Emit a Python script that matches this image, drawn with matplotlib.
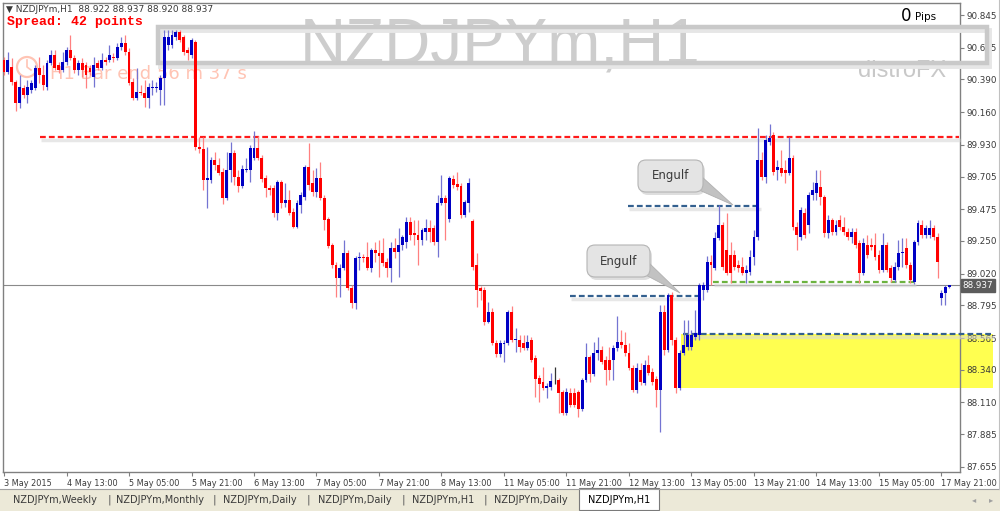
import numpy as np
import matplotlib
matplotlib.use('Agg')
import matplotlib.pyplot as plt
from matplotlib.patches import Rectangle, FancyBboxPatch, Polygon, Circle
import matplotlib.transforms as mtransforms

# ---------------- data (NZDJPYm, H1, 3 May 21:00 .. 17 May 23:00) ----------------
opens = [
    90.527, 90.443, 90.478, 90.372, 90.224, 90.330, 90.280, 90.316, 90.330, 90.471,
    90.421, 90.337, 90.506, 90.563, 90.492, 90.457, 90.513, 90.598, 90.542, 90.457,
    90.506, 90.492, 90.471, 90.407, 90.506, 90.471, 90.527, 90.527, 90.549, 90.542,
    90.619, 90.647, 90.584, 90.372, 90.259, 90.302, 90.294, 90.259, 90.330, 90.330,
    90.316, 90.400, 90.633, 90.633, 90.690, 90.725, 90.690, 90.598, 90.563, 90.655,
    89.913, 89.899, 89.680, 89.680, 89.821, 89.786, 89.737, 89.553, 89.751, 89.871,
    89.701, 89.638, 89.751, 89.751, 89.836, 89.906, 89.836, 89.694, 89.624, 89.624,
    89.447, 89.666, 89.518, 89.539, 89.454, 89.348, 89.504, 89.560, 89.772, 89.659,
    89.595, 89.694, 89.553, 89.405, 89.221, 89.080, 88.988, 89.059, 89.165, 88.918,
    88.812, 89.130, 89.137, 89.137, 89.059, 89.186, 89.165, 89.165, 89.101, 89.059,
    89.200, 89.172, 89.221, 89.243, 89.384, 89.306, 89.292, 89.257, 89.313, 89.341,
    89.341, 89.243, 89.518, 89.553, 89.405, 89.687, 89.652, 89.638, 89.433, 89.518,
    89.391, 89.080, 88.918, 88.904, 88.678, 88.748, 88.530, 88.452, 88.522, 88.530,
    88.748, 88.551, 88.551, 88.530, 88.494, 88.551, 88.423, 88.282, 88.254, 88.212,
    88.219, 88.268, 88.268, 88.184, 88.035, 88.176, 88.176, 88.184, 88.063, 88.268,
    88.431, 88.311, 88.459, 88.480, 88.409, 88.409, 88.409, 88.494, 88.537, 88.515,
    88.459, 88.353, 88.198, 88.339, 88.247, 88.374, 88.325, 88.275, 88.198, 88.748,
    88.480, 88.868, 88.551, 88.212, 88.459, 88.501, 88.501, 88.572, 88.586, 88.904,
    88.904, 89.101, 89.059, 89.271, 89.363, 89.186, 89.151, 89.151, 89.080, 89.066,
    89.024, 89.031, 89.137, 89.278, 89.821, 89.701, 89.948, 89.998, 89.751, 89.765,
    89.751, 89.730, 89.836, 89.348, 89.278, 89.447, 89.363, 89.574, 89.588, 89.631,
    89.560, 89.306, 89.398, 89.313, 89.398, 89.348, 89.313, 89.278, 89.313, 89.236,
    89.024, 89.221, 89.221, 89.221, 89.151, 89.045, 89.221, 89.059, 88.974, 89.066,
    89.165, 89.200, 89.080, 88.960, 89.243, 89.363, 89.292, 89.292, 89.341, 89.278,
    88.847, 88.882, 88.922,
]
highs = [
    90.549, 90.584, 90.542, 90.386, 90.421, 90.351, 90.386, 90.386, 90.492, 90.549,
    90.492, 90.527, 90.598, 90.598, 90.513, 90.584, 90.619, 90.704, 90.563, 90.527,
    90.542, 90.513, 90.492, 90.549, 90.527, 90.577, 90.549, 90.633, 90.577, 90.647,
    90.690, 90.704, 90.612, 90.400, 90.471, 90.351, 90.386, 90.365, 90.386, 90.372,
    90.421, 90.739, 90.739, 90.739, 90.739, 90.739, 90.704, 90.619, 90.683, 90.669,
    89.984, 89.984, 89.913, 89.843, 89.878, 89.836, 89.765, 89.878, 89.948, 89.892,
    89.751, 89.786, 89.836, 89.927, 90.026, 89.991, 89.857, 89.716, 89.645, 89.645,
    89.680, 89.680, 89.659, 89.610, 89.483, 89.539, 89.595, 89.786, 89.941, 89.751,
    89.765, 89.807, 89.574, 89.419, 89.236, 89.101, 89.087, 89.257, 89.186, 88.939,
    89.144, 89.172, 89.158, 89.243, 89.200, 89.243, 89.257, 89.271, 89.130, 89.243,
    89.271, 89.341, 89.292, 89.419, 89.419, 89.398, 89.398, 89.341, 89.405, 89.398,
    89.363, 89.574, 89.716, 89.574, 89.708, 89.716, 89.737, 89.659, 89.539, 89.694,
    89.405, 89.165, 88.932, 88.925, 88.819, 88.777, 88.551, 88.551, 88.551, 88.762,
    88.791, 88.635, 88.586, 88.586, 88.586, 88.572, 88.445, 88.303, 88.360, 88.247,
    88.318, 88.360, 88.282, 88.198, 88.212, 88.212, 88.212, 88.198, 88.282, 88.530,
    88.445, 88.537, 88.572, 88.508, 88.438, 88.501, 88.515, 88.720, 88.621, 88.607,
    88.530, 88.374, 88.388, 88.388, 88.409, 88.445, 88.353, 88.296, 88.798, 88.798,
    88.882, 88.890, 88.572, 88.480, 88.692, 88.692, 88.621, 88.762, 88.953, 88.960,
    89.144, 89.151, 89.313, 89.504, 89.384, 89.447, 89.243, 89.186, 89.116, 89.137,
    89.080, 89.186, 89.327, 90.047, 89.878, 89.998, 90.076, 90.019, 89.821, 89.892,
    89.821, 89.984, 89.857, 89.384, 89.490, 89.483, 89.595, 89.666, 89.751, 89.751,
    89.574, 89.433, 89.412, 89.398, 89.433, 89.419, 89.341, 89.341, 89.341, 89.257,
    89.271, 89.292, 89.271, 89.306, 89.186, 89.306, 89.243, 89.080, 89.101, 89.257,
    89.271, 89.271, 89.101, 89.257, 89.398, 89.398, 89.363, 89.398, 89.363, 89.306,
    88.904, 88.939, 88.937,
]
lows = [
    90.421, 90.429, 90.351, 90.167, 90.189, 90.259, 90.224, 90.294, 90.316, 90.365,
    90.316, 90.316, 90.492, 90.457, 90.436, 90.443, 90.492, 90.527, 90.436, 90.421,
    90.407, 90.330, 90.421, 90.337, 90.457, 90.457, 90.492, 90.513, 90.513, 90.527,
    90.598, 90.563, 90.351, 90.245, 90.245, 90.280, 90.196, 90.189, 90.280, 90.302,
    90.210, 90.210, 90.598, 90.612, 90.669, 90.655, 90.563, 90.527, 90.542, 89.892,
    89.871, 89.610, 89.483, 89.659, 89.751, 89.716, 89.511, 89.539, 89.666, 89.645,
    89.595, 89.624, 89.737, 89.666, 89.821, 89.821, 89.666, 89.560, 89.574, 89.419,
    89.398, 89.483, 89.490, 89.433, 89.341, 89.341, 89.447, 89.539, 89.610, 89.567,
    89.560, 89.539, 89.327, 89.200, 89.059, 88.854, 88.854, 89.045, 88.904, 88.777,
    88.770, 89.045, 89.101, 89.045, 89.031, 89.101, 88.995, 89.073, 88.995, 88.960,
    89.130, 88.995, 89.186, 89.200, 89.257, 89.221, 89.080, 89.221, 89.257, 89.243,
    89.221, 89.137, 89.504, 89.257, 89.384, 89.624, 89.610, 89.412, 89.419, 89.454,
    89.045, 88.784, 88.833, 88.656, 88.671, 88.515, 88.431, 88.431, 88.395, 88.515,
    88.537, 88.466, 88.466, 88.480, 88.480, 88.395, 88.148, 88.113, 88.198, 88.141,
    88.198, 88.240, 88.035, 88.021, 88.021, 88.078, 88.078, 88.007, 88.049, 88.254,
    88.254, 88.296, 88.409, 88.381, 88.233, 88.268, 88.268, 88.473, 88.494, 88.438,
    88.339, 88.184, 88.176, 88.233, 88.233, 88.303, 88.233, 88.078, 87.901, 88.445,
    88.466, 88.515, 88.176, 88.198, 88.445, 88.480, 88.480, 88.551, 88.551, 88.833,
    88.890, 88.939, 89.045, 89.257, 89.045, 89.010, 88.953, 89.045, 89.031, 89.010,
    88.953, 89.010, 89.080, 89.257, 89.680, 89.659, 89.927, 89.716, 89.680, 89.708,
    89.659, 89.716, 89.327, 89.186, 89.257, 89.271, 89.306, 89.539, 89.539, 89.504,
    89.278, 89.271, 89.292, 89.292, 89.327, 89.292, 89.257, 89.236, 89.200, 88.953,
    89.010, 89.130, 89.186, 89.116, 89.024, 89.031, 89.031, 88.960, 88.960, 89.045,
    89.066, 89.059, 88.953, 88.946, 89.221, 89.271, 89.271, 89.271, 89.257, 88.988,
    88.798, 88.798, 88.920,
]
closes = [
    90.443, 90.527, 90.372, 90.224, 90.337, 90.280, 90.337, 90.365, 90.471, 90.421,
    90.351, 90.506, 90.563, 90.471, 90.457, 90.513, 90.598, 90.542, 90.457, 90.506,
    90.457, 90.421, 90.443, 90.492, 90.471, 90.527, 90.513, 90.563, 90.542, 90.619,
    90.647, 90.584, 90.365, 90.259, 90.302, 90.294, 90.259, 90.337, 90.337, 90.337,
    90.400, 90.690, 90.690, 90.704, 90.725, 90.669, 90.584, 90.577, 90.669, 89.913,
    89.899, 89.680, 89.694, 89.821, 89.786, 89.730, 89.553, 89.751, 89.871, 89.701,
    89.638, 89.758, 89.758, 89.906, 89.906, 89.836, 89.687, 89.624, 89.610, 89.447,
    89.666, 89.518, 89.539, 89.447, 89.348, 89.518, 89.574, 89.772, 89.645, 89.595,
    89.694, 89.553, 89.398, 89.214, 89.080, 88.988, 89.059, 89.165, 88.918, 88.812,
    89.130, 89.137, 89.130, 89.059, 89.186, 89.165, 89.144, 89.094, 89.059, 89.200,
    89.172, 89.221, 89.278, 89.384, 89.292, 89.292, 89.257, 89.327, 89.341, 89.313,
    89.243, 89.518, 89.553, 89.518, 89.694, 89.645, 89.631, 89.433, 89.525, 89.659,
    89.066, 88.904, 88.897, 88.678, 88.748, 88.530, 88.452, 88.530, 88.530, 88.748,
    88.551, 88.558, 88.501, 88.494, 88.537, 88.409, 88.275, 88.240, 88.212, 88.226,
    88.261, 88.268, 88.176, 88.035, 88.184, 88.092, 88.092, 88.063, 88.268, 88.431,
    88.311, 88.459, 88.480, 88.395, 88.339, 88.339, 88.494, 88.537, 88.515, 88.459,
    88.353, 88.198, 88.353, 88.254, 88.374, 88.318, 88.254, 88.198, 88.748, 88.480,
    88.868, 88.551, 88.212, 88.459, 88.515, 88.586, 88.586, 88.600, 88.939, 88.939,
    89.101, 89.080, 89.271, 89.363, 89.066, 89.024, 89.024, 89.066, 89.059, 89.024,
    89.045, 89.137, 89.278, 89.821, 89.701, 89.963, 89.977, 89.737, 89.772, 89.730,
    89.730, 89.836, 89.348, 89.292, 89.469, 89.292, 89.574, 89.610, 89.659, 89.560,
    89.306, 89.398, 89.313, 89.363, 89.348, 89.313, 89.278, 89.313, 89.221, 89.024,
    89.236, 89.151, 89.207, 89.137, 89.045, 89.221, 89.045, 88.988, 89.066, 89.165,
    89.172, 89.080, 88.974, 89.243, 89.377, 89.292, 89.341, 89.341, 89.278, 89.101,
    88.882, 88.925, 88.937,
]

price_ticks = [90.845, 90.615, 90.390, 90.160, 89.930, 89.705, 89.475, 89.250,
               89.020, 88.795, 88.565, 88.340, 88.110, 87.885, 87.655]
time_labels = ['3 May 2015', '4 May 13:00', '5 May 05:00', '5 May 21:00', '6 May 13:00',
               '7 May 05:00', '7 May 21:00', '8 May 13:00', '11 May 05:00', '11 May 21:00',
               '12 May 13:00', '13 May 05:00', '13 May 21:00', '14 May 13:00',
               '15 May 05:00', '17 May 21:00']
bars_per_label = 16
tabs = ['NZDJPYm,Weekly', 'NZDJPYm,Monthly', 'NZDJPYm,Daily', 'NZDJPYm,Daily',
        'NZDJPYm,H1', 'NZDJPYm,Daily', 'NZDJPYm,H1']

current_price = 88.937
resistance = 89.984          # red dashed
engulf_high = 89.497         # upper blue dashed
engulf_low = 88.861          # lower blue dashed
support = 88.960             # green dashed
zone_top, zone_bottom = 88.590, 88.210   # yellow zone

# ---------------- figure ----------------
W, H = 1000, 511
fig = plt.figure(figsize=(W / 100, H / 100), dpi=100)
fig.patch.set_facecolor('white')


def pixel_axes(z):
    a = fig.add_axes([0, 0, 1, 1], zorder=z)
    a.set_xlim(0, W)
    a.set_ylim(H, 0)
    a.axis('off')
    a.patch.set_alpha(0)
    return a


bg = pixel_axes(0)
ax = fig.add_axes([3 / W, 1 - 472 / H, 957 / W, 469 / H], zorder=1)
ax.patch.set_alpha(0)
ov = pixel_axes(2)

n = len(opens)
idx = np.arange(n)
o = np.array(opens); h = np.array(highs); l = np.array(lows); c = np.array(closes)
ax.set_xlim(-0.26, 244.75)
ax.set_ylim(87.619, 90.930)

# ---- background watermark / timer text ----
bg.text(300, 63, 'NZDJPYm,H1', fontsize=46, color='#cdcdcd', family='Liberation Sans',
        ha='left', va='baseline')
bg.text(946, 77, 'distroFX', fontsize=17, color='#c8c8c8', family='Liberation Sans',
        ha='right', va='baseline')
bg.add_patch(Circle((27, 67), 10, fill=False, ec='#ffc4b4', lw=1.6))
bg.plot([27, 27, 31], [60, 67, 70], color='#ffc4b4', lw=1.2)
bg.text(50, 74, 'H1 Bar end 56 m 37 s', fontsize=13, color='#ffc4b4', ha='left', va='center')

# ---- zone, rectangle, levels ----
x_right_ext = 253.2
ax.add_patch(Rectangle((173.2, zone_bottom), x_right_ext - 173.2, zone_top - zone_bottom,
                       fc='#ffff50', ec='none', zorder=1, clip_on=False))
shadow_tr = mtransforms.offset_copy(ax.transData, fig=fig, x=2, y=-3, units='dots')
ax.add_patch(Rectangle((39.4, 90.506), 251.7 - 39.4, 90.760 - 90.506, fill=False,
                       ec='#e6e6e6', lw=3.5, zorder=2.9, clip_on=False, transform=shadow_tr))
ax.add_patch(Rectangle((39.4, 90.506), 251.7 - 39.4, 90.760 - 90.506, fill=False,
                       ec='#c9c9c9', lw=3.2, zorder=3, clip_on=False))

lshadow = mtransforms.offset_copy(ax.transData, fig=fig, x=1, y=-3, units='dots')


def level(y, x0, x1, color):
    ax.hlines(y, x0, x1, colors='#d8d8d8', lw=2.5, alpha=0.6, zorder=2.8,
              transform=lshadow, clip_on=False)
    ax.hlines(y, x0, x1, colors=color, lw=1.6, linestyles=(0, (2.6, 1.4)),
              zorder=3.2, clip_on=False)


level(resistance, 9.2, 244.6, '#ff1a1a')
level(engulf_high, 159.8, 193.5, '#33608f')
level(engulf_low, 144.9, 178.2, '#33608f')
level(zone_top, 173.8, x_right_ext, '#33608f')
level(support, 181.5, 233.2, '#6cb33f')

ax.axhline(current_price, color='#8a8a8a', lw=0.8, zorder=2)

# ---- candles ----
up = c > o
dn = c < o
fl = c == o
ax.vlines(idx[up], l[up], h[up], color='#7474d2', lw=0.9, zorder=4)
ax.vlines(idx[dn], l[dn], h[dn], color='#ff8080', lw=0.9, zorder=4)
ax.vlines(idx[fl], l[fl], h[fl], color='#333333', lw=0.9, zorder=4)
body = np.maximum(np.abs(c - o), 0.006)
bw = 0.74
ax.bar(idx[up], body[up], bottom=o[up], width=bw, color='#0000c4', lw=0, zorder=5)
ax.bar(idx[dn], body[dn], bottom=c[dn], width=bw, color='#ff0000', lw=0, zorder=5)
ax.bar(idx[fl], body[fl], bottom=o[fl] - 0.003, width=bw, color='#111111', lw=0, zorder=5)

# ---- axes styling ----
for s in ax.spines.values():
    s.set_color('#808080')
    s.set_linewidth(1.0)
ax.yaxis.tick_right()
ax.set_yticks(price_ticks)
ax.set_yticklabels([f'{v:.3f}' for v in price_ticks])
ax.tick_params(axis='y', direction='out', length=3, width=0.8, colors='#808080',
               labelcolor='#3a3a3a', labelsize=6.3, pad=1.5)
ax.set_xticks(np.arange(len(time_labels)) * bars_per_label)
ax.set_xticklabels(time_labels)
ax.tick_params(axis='x', direction='out', length=3, width=0.8, colors='#808080',
               labelcolor='#3a3a3a', labelsize=5.9, pad=2)
for lab in ax.get_xticklabels():
    lab.set_ha('left')

# current price tag
ptr = mtransforms.blended_transform_factory(ax.transAxes, ax.transData)
ax.text(1.003, current_price, f'{current_price:.3f}', transform=ptr, fontsize=6.3,
        color='white', ha='left', va='center', zorder=6, clip_on=False,
        bbox=dict(boxstyle='square,pad=0.2', fc='#5c5c5c', ec='#5c5c5c'))

# ---- overlay texts ----
ov.text(6, 10, '\u25bc NZDJPYm,H1  88.922 88.937 88.920 88.937', fontsize=6.5,
        color='#3a3a3a', ha='left', va='center')
ov.text(7, 22, 'Spread: 42 points', family='Liberation Mono', weight='bold',
        color='#ff0000', fontsize=9.5, ha='left', va='center')
ov.text(911, 16, '0', fontsize=12, color='black', ha='right', va='center')
ov.text(915, 17, 'Pips', fontsize=7.5, color='black', ha='left', va='center')


def callout(x0, y0, w, hgt, tail, label):
    sh = FancyBboxPatch((x0 + 2, y0 + 3), w, hgt, boxstyle='round,pad=0,rounding_size=8',
                        fc='#c8c8c8', ec='none', alpha=0.6)
    ov.add_patch(sh)
    ov.add_patch(Polygon(tail, closed=True, fc='#c2c2c2', ec='#b0b0b0', lw=0.6))
    ov.add_patch(FancyBboxPatch((x0, y0), w, hgt, boxstyle='round,pad=0,rounding_size=8',
                                fc='#e4e4e4', ec='#b4b4b4', lw=0.8))
    ov.text(x0 + w / 2, y0 + hgt / 2, label, fontsize=8.5, color='#3a3a3a',
            ha='center', va='center')


callout(638, 160, 65, 32, [(690, 186), (701, 176), (733, 205)], 'Engulf')
callout(587, 245, 63, 32, [(638, 271), (648, 262), (680, 293)], 'Engulf')

# ---- tab bar ----
ov.add_patch(Rectangle((0, 489), W, 22, fc='#ece9d8', ec='none'))
ov.plot([0, W], [489, 489], color='#a0a0a0', lw=0.8)
ov.add_patch(Rectangle((579, 488.5), 80, 22, fc='white', ec='#7a7a7a', lw=0.8))
tab_centers = [55, 160, 260, 355, 443, 531, 619]
for cx, t in zip(tab_centers, tabs):
    ov.text(cx, 500, t, fontsize=7, color='#3a3a3a' if cx < 600 else 'black',
            ha='center', va='center')
for sx in [109, 214, 308, 403, 485]:
    ov.text(sx, 500, '|', fontsize=8, color='#555555', ha='center', va='center')
ov.text(974, 500, '\u25c2', fontsize=6, color='#a0a0a0', ha='center', va='center')
ov.text(991, 500, '\u25b8', fontsize=6, color='#a0a0a0', ha='center', va='center')
ov.plot([998.5, 998.5], [0, 489], color='#c0c0c0', lw=0.8)

fig.savefig('out.png', dpi=100, facecolor='white')
